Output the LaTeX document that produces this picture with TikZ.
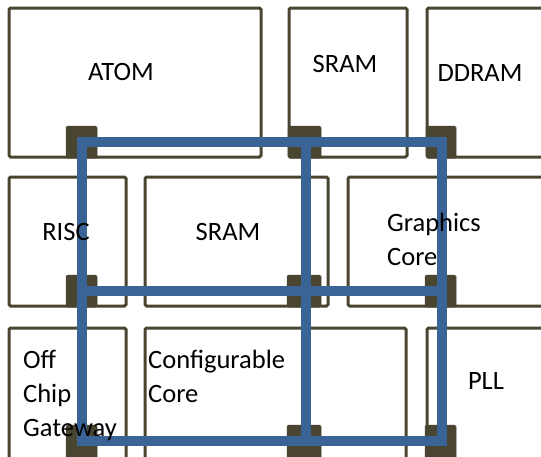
\documentclass[tikz,border=0pt]{standalone}
\usepackage{fontspec}
\setmainfont{Carlito}
\definecolor{boxline}{HTML}{4A4530}
\definecolor{busblue}{HTML}{3A6396}
\begin{document}
\begin{tikzpicture}[x=1pt,y=-1pt,
  chip/.style={draw=boxline,line width=3pt,rounded corners=1.5pt,fill=white},
  pad/.style={fill=boxline,draw=boxline,line width=0.5pt,rounded corners=1.5pt},
  bus/.style={draw=busblue,line width=10pt,line join=miter},
  lbl/.style={inner sep=0pt,font=\fontsize{26.5}{34}\selectfont,text=black},
  ]
\useasboundingbox (0,0) rectangle (541,456);
\clip (0,0) rectangle (541,456);
% blocks
\draw[chip] (9,8) rectangle (261,157);
\draw[chip] (289,8) rectangle (407,157);
\draw[chip] (427,8) rectangle (548,157);
\draw[chip] (9,177) rectangle (126,306);
\draw[chip] (145,177) rectangle (328,306);
\draw[chip] (348,177) rectangle (548,306);
\draw[chip] (9,328) rectangle (126,468);
\draw[chip] (145,328) rectangle (406,468);
\draw[chip] (427,328) rectangle (548,468);
% pads
\draw[pad] (66,126) rectangle (97,158);
\draw[pad] (288,126) rectangle (321,158);
\draw[pad] (426,126) rectangle (456,158);
\draw[pad] (66,275) rectangle (97,307);
\draw[pad] (287,275) rectangle (321,307);
\draw[pad] (425,275) rectangle (456,307);
\draw[pad] (66,425) rectangle (97,470);
\draw[pad] (287,425) rectangle (321,470);
\draw[pad] (425,425) rectangle (456,470);
% bus grid
\coordinate (g11) at (82,142);
\coordinate (g12) at (306,142);
\coordinate (g13) at (442,142);
\coordinate (g21) at (82,291);
\coordinate (g23) at (442,291);
\coordinate (g31) at (82,441);
\coordinate (g32) at (306,441);
\coordinate (g33) at (442,441);
\draw[bus] (g11) -- (g13) -- (g33) -- (g31) -- cycle;
\draw[bus] (g12) -- (g32);
\draw[bus] (g21) -- (g23);
% labels
\node[lbl,anchor=base] (atom) at (121,80) {ATOM};
\node[lbl,anchor=base] (sramtop) at (345,72) {SRAM};
\node[lbl,anchor=base] (ddram) at (480,81) {DDRAM};
\node[lbl,anchor=base] (risc) at (66,240) {RISC};
\node[lbl,anchor=base] (srammid) at (228,240) {SRAM};
\node[lbl,anchor=base west,align=left] (gfx) at (387,265) {Graphics\\Core};
\node[lbl,anchor=base west,align=left] (gw) at (23,436) {Off\\Chip\\Gateway};
\node[lbl,anchor=base west,align=left] (conf) at (148,402) {Configurable\\Core};
\node[lbl,anchor=base] (pll) at (486,389) {PLL};
\end{tikzpicture}
\end{document}
